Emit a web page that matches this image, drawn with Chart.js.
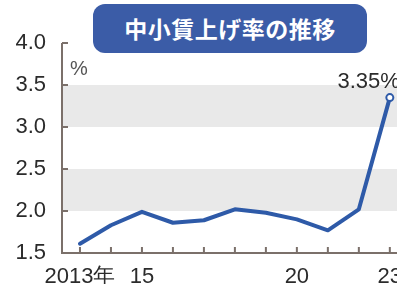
<!DOCTYPE html>
<html lang="ja">
<head>
  <meta charset="UTF-8" />
  <title>中小賃上げ率の推移</title>
  <style>
    html, body {
      margin: 0;
      padding: 0;
      background: #fff;
      overflow: hidden;
    }
    #wrap {
      position: relative;
      width: 397px;
      height: 284px;
      overflow: hidden;
    }
    #chart {
      position: absolute;
      left: 0;
      top: 0;
    }
    .title-box {
      position: absolute;
      left: 93px;
      top: 4px;
      width: 274px;
      height: 49px;
      background: #3b5ca7;
      border-radius: 12px;
      color: #fff;
      font-family: "Noto Sans CJK JP", sans-serif;
      font-weight: bold;
      font-size: 23px;
      line-height: 49px;
      text-align: center;
      letter-spacing: 0.5px;
    }
  </style>
</head>
<body>
  <div id="wrap">
    <canvas id="chart" width="420" height="284"></canvas>
    <div class="title-box">中小賃上げ率の推移</div>
  </div>

  <script src="https://cdn.jsdelivr.net/npm/chart.js"></script>
  <script>
    // 年と賃上げ率(%)
    const years = [2013, 2014, 2015, 2016, 2017, 2018, 2019, 2020, 2021, 2022, 2023];
    const rates = [1.61, 1.83, 1.99, 1.86, 1.89, 2.02, 1.98, 1.90, 1.77, 2.02, 3.35];

    // x軸の目盛り表示
    const tickYears = [2013, 2015, 2020, 2023];
    const tickTexts = ['2013年', '15', '20', '23'];

    // 灰色の帯 (下限, 上限)
    const bandLows = [2.0, 3.0];
    const bandHighs = [2.5, 3.5];

    const lastLabel = '3.35%';

    const blue = '#2e5aa8';
    const axisColor = '#7b706a';
    const textColor = '#2b2b2b';
    const font = 'Arial, "Liberation Sans", sans-serif';

    // 帯、軸、目盛り、ラベルを描く
    const decor = {
      id: 'decor',
      beforeDatasetsDraw(chart) {
        const c = chart.ctx;
        const area = chart.chartArea;
        const x = chart.scales.x;
        const y = chart.scales.y;
        c.save();
        c.fillStyle = '#e9e9e9';
        for (let i = 0; i < bandLows.length; i++) {
          const top = y.getPixelForValue(bandHighs[i]);
          const bot = y.getPixelForValue(bandLows[i]);
          c.fillRect(area.left, top, chart.width - area.left, bot - top);
        }

        c.strokeStyle = axisColor;
        c.lineWidth = 2;
        c.beginPath();
        c.moveTo(area.left, area.top);
        c.lineTo(area.left, area.bottom);
        c.lineTo(chart.width, area.bottom);
        for (let v = 1.5; v <= 4.0001; v += 0.5) {
          const py = y.getPixelForValue(v);
          c.moveTo(area.left, py);
          c.lineTo(area.left + 6, py);
        }
        years.forEach(yr => {
          const px = x.getPixelForValue(yr);
          c.moveTo(px, area.bottom);
          c.lineTo(px, area.bottom - 6);
        });
        c.stroke();

        c.fillStyle = '#555';
        c.font = '20px ' + font;
        c.textAlign = 'left';
        c.textBaseline = 'alphabetic';
        c.fillText('%', area.left + 8, area.top + 32);
        c.restore();
      },
      afterDatasetsDraw(chart) {
        const c = chart.ctx;
        const pt = chart.getDatasetMeta(0).data[rates.length - 1];
        c.save();
        c.fillStyle = textColor;
        c.font = '22px ' + font;
        c.textAlign = 'right';
        c.textBaseline = 'alphabetic';
        c.fillText(lastLabel, pt.x + 10, pt.y - 10);
        c.restore();
      }
    };

    new Chart(document.getElementById('chart'), {
      type: 'line',
      data: {
        labels: years,
        datasets: [{
          data: years.map((yr, i) => ({ x: yr, y: rates[i] })),
          borderColor: blue,
          borderWidth: 4,
          borderJoinStyle: 'round',
          borderCapStyle: 'round',
          tension: 0,
          pointRadius: ctx => ctx.dataIndex === rates.length - 1 ? 3.5 : 0,
          pointBackgroundColor: '#fff',
          pointBorderColor: blue,
          pointBorderWidth: 2
        }]
      },
      options: {
        responsive: false,
        animation: false,
        devicePixelRatio: 1,
        layout: { padding: { top: 43, left: 0, right: 0, bottom: 0 } },
        plugins: {
          legend: { display: false },
          tooltip: { enabled: false }
        },
        scales: {
          x: {
            type: 'linear',
            min: 2012.42,
            max: 2023.78,
            grid: { display: false },
            border: { display: false },
            afterFit: s => { s.height = 31; },
            ticks: {
              stepSize: 1,
              includeBounds: false,
              autoSkip: false,
              maxRotation: 0,
              padding: 3,
              color: textColor,
              font: { family: font, size: 22 },
              callback: v => {
                const i = tickYears.indexOf(v);
                return i >= 0 ? tickTexts[i] : '';
              }
            }
          },
          y: {
            min: 1.5,
            max: 4.0,
            grid: { display: false },
            border: { display: false },
            afterFit: s => { s.width = 62; },
            ticks: {
              stepSize: 0.5,
              padding: 8,
              color: textColor,
              font: { family: font, size: 22 },
              callback: v => v.toFixed(1)
            }
          }
        }
      },
      plugins: [decor]
    });
  </script>
</body>
</html>
